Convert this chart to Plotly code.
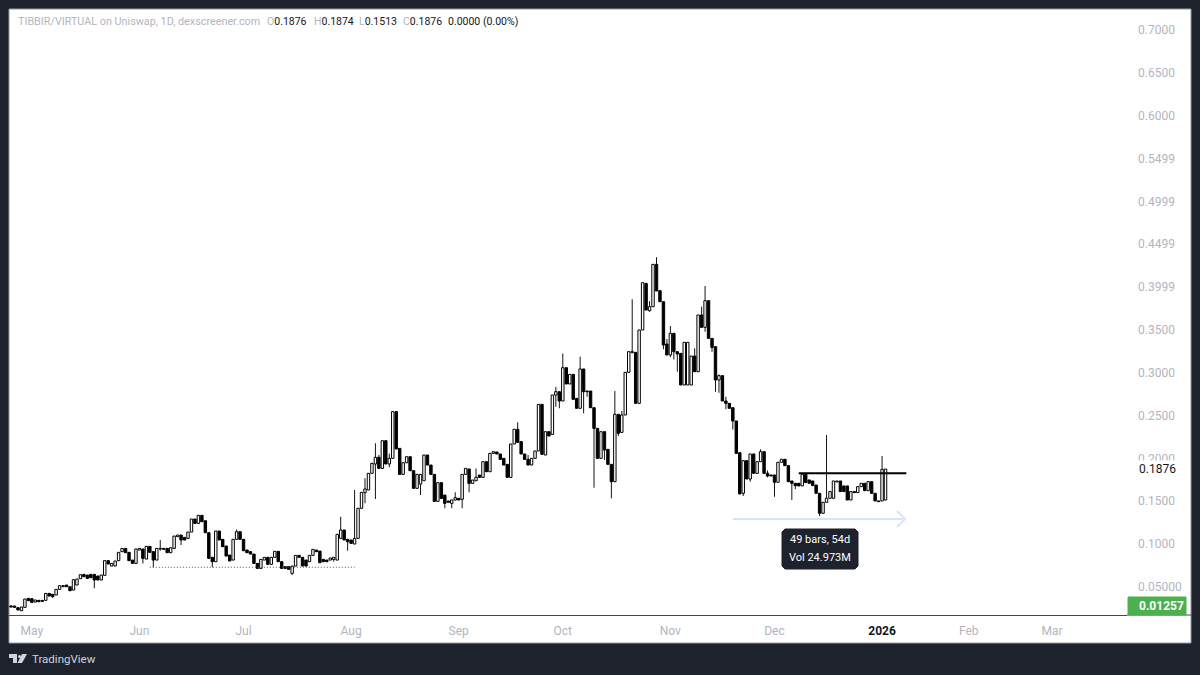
import pandas as pd
import plotly.graph_objects as go

# daily bars
opens = [
    .0278,.0278,.0258,.0223,.0262,.0367,.0363,.0324,.0344,.0344,
    .0344,.0425,.0414,.0406,.0472,.0515,.0523,.0503,.0464,.0523,
    .0597,.0647,.0639,.0647,.0647,.0628,.0581,.0636,.0807,.0744,
    .0744,.0807,.0912,.0950,.0904,.0814,.0775,.0931,.0943,.0826,
    .0974,.0912,.0814,.0950,.0950,.0950,.0900,.0950,.1087,.1106,
    .1079,.1067,.1141,.1293,.1242,.1336,.1273,.1133,.0846,.0795,
    .1153,.1056,.0978,.0873,.0814,.1056,.1145,.1056,.0931,.0912,
    .0884,.0775,.0717,.0814,.0846,.0764,.0846,.0916,.0795,.0737,
    .0737,.0659,.0744,.0869,.0846,.0814,.0795,.0869,.0931,.0919,
    .0822,.0814,.0814,.0822,.0814,.1067,.1165,.1056,.1048,.1001,
    .1067,.1418,.1600,.1632,.1826,.1935,.2013,.1884,.2207,.1935,
    .2001,.2546,.2118,.1814,.1950,.2020,.1857,.1651,.1700,.1740,
    .2040,.1923,.1814,.1499,.1717,.1573,.1503,.1476,.1515,.1534,
    .1523,.1814,.1877,.1709,.1740,.1806,.1779,.1962,.1845,.2059,
    .2075,.2052,.2001,.1931,.1779,.2168,.2340,.2196,.2052,.1989,
    .1923,.2001,.2087,.2631,.2040,.2312,.2281,.2740,.2779,.2670,
    .3059,.2869,.2981,.2701,.2585,.3044,.2787,.2787,.2592,.2351,
    .2001,.2312,.2106,.1931,.1729,.2515,.2304,.2507,.3005,.3234,
    .3238,.2643,.3499,.4043,.3724,.3771,.4265,.3958,.3829,.3335,
    .3207,.3460,.3246,.3226,.2857,.2857,.2857,.3195,.3012,.3674,
    .3530,.3841,.3401,.3304,.2915,.2966,.2670,.2643,.2592,.2437,
    .2067,.1593,.1974,.1760,.2052,.1826,.1962,.2079,.1827,.1807,
    .1807,.1722,.1955,.1990,.1916,.1737,.1710,.1710,.1679,.1815,
    .1749,.1737,.1690,.1593,.1360,.1488,.1535,.1535,.1725,.1737,
    .1679,.1679,.1515,.1613,.1601,.1671,.1710,.1624,.1729,.1593,
    .1504,.1504,.1515,
]
closes = [
    .0266,.0262,.0231,.0266,.0359,.0340,.0320,.0348,.0328,.0332,
    .0425,.0394,.0387,.0472,.0515,.0503,.0503,.0456,.0585,.0593,
    .0643,.0620,.0600,.0608,.0581,.0581,.0639,.0807,.0768,.0775,
    .0803,.0904,.0950,.0900,.0807,.0775,.0943,.0950,.0834,.0974,
    .0904,.0814,.0950,.0943,.0939,.0900,.0958,.1094,.1106,.1048,
    .1048,.1141,.1293,.1242,.1336,.1262,.1133,.0834,.0795,.1153,
    .1048,.0970,.0861,.0803,.1056,.1145,.1056,.0923,.0900,.0884,
    .0775,.0717,.0822,.0846,.0764,.0846,.0916,.0795,.0717,.0717,
    .0706,.0744,.0869,.0846,.0744,.0744,.0869,.0939,.0912,.0783,
    .0795,.0795,.0838,.0846,.1114,.1165,.1048,.1028,.1009,.1067,
    .1418,.1604,.1643,.1826,.1943,.2013,.1884,.2207,.1935,.2001,
    .2546,.2110,.1814,.1950,.2020,.1857,.1651,.1814,.1814,.2040,
    .1923,.1814,.1499,.1717,.1534,.1476,.1488,.1515,.1542,.1515,
    .1814,.1884,.1709,.1748,.1779,.1779,.1962,.1845,.2059,.2079,
    .2052,.1989,.1923,.1779,.2168,.2340,.2188,.2052,.1989,.1923,
    .2001,.2087,.2631,.2048,.2312,.2262,.2740,.2779,.2670,.3059,
    .2869,.2981,.2690,.2585,.3044,.2779,.2779,.2592,.2351,.2001,
    .2312,.2098,.1931,.1729,.2515,.2293,.2507,.3005,.3246,.3246,
    .2643,.3499,.4051,.3732,.3771,.4265,.3954,.3829,.3324,.3207,
    .3460,.3246,.3219,.2857,.3355,.3355,.3195,.3012,.3674,.3530,
    .3841,.3401,.3296,.2915,.2966,.2670,.2643,.2585,.2437,.2059,
    .1585,.1974,.1760,.2052,.1826,.1962,.2079,.1826,.1795,.1795,
    .1722,.1955,.1990,.1916,.1729,.1710,.1683,.1679,.1815,.1718,
    .1710,.1683,.1593,.1360,.1488,.1535,.1613,.1737,.1737,.1613,
    .1613,.1515,.1613,.1601,.1671,.1710,.1624,.1729,.1593,.1504,
    .1496,.1873,.1876,
]
highs = [
    .0286,.0278,.0258,.0266,.0359,.0367,.0363,.0348,.0344,.0344,
    .0425,.0425,.0414,.0472,.0515,.0515,.0523,.0503,.0585,.0593,
    .0643,.0647,.0639,.0647,.0647,.0628,.0639,.0807,.0807,.0775,
    .0803,.0904,.0950,.0950,.0904,.0814,.0943,.0950,.0943,.0974,
    .0974,.0912,.0950,.1048,.0950,.0950,.0958,.1094,.1106,.1106,
    .1079,.1141,.1293,.1293,.1336,.1336,.1273,.1133,.0846,.1153,
    .1153,.1056,.0978,.0873,.1056,.1172,.1145,.1056,.0931,.0912,
    .0884,.0775,.0822,.0846,.0846,.0846,.0916,.0916,.0795,.0737,
    .0737,.0744,.0869,.0869,.0846,.0814,.0869,.0939,.0931,.0919,
    .0822,.0814,.0838,.0846,.1114,.1320,.1165,.1056,.1048,.1631,
    .1418,.1604,.1768,.1826,.1943,.2176,.2040,.2207,.2207,.2059,
    .2546,.2546,.2118,.1950,.2020,.2020,.1857,.1814,.1814,.2040,
    .2040,.1923,.1814,.1717,.1717,.1573,.1503,.1515,.1604,.1534,
    .1814,.1884,.1877,.1748,.1884,.1806,.1962,.1962,.2059,.2079,
    .2075,.2052,.2001,.1931,.2168,.2340,.2421,.2196,.2052,.2040,
    .2001,.2087,.2631,.2631,.2312,.2312,.2740,.2837,.2779,.3226,
    .3059,.2981,.2981,.2701,.3187,.3044,.2787,.2787,.2592,.2351,
    .2312,.2312,.2106,.1931,.2787,.2515,.2553,.3005,.3246,.3857,
    .3238,.3499,.4051,.4043,.3837,.4265,.4347,.3958,.3829,.3394,
    .3545,.3460,.3246,.3226,.3355,.3355,.3195,.3285,.3674,.3771,
    .4012,.3841,.3401,.3304,.2981,.2966,.2721,.2643,.2592,.2437,
    .2067,.1974,.1974,.2052,.2052,.1962,.2106,.2079,.1858,.1807,
    .1807,.1955,.1990,.1990,.1916,.1737,.1710,.1710,.1815,.1815,
    .1749,.1737,.1690,.1593,.1488,.2274,.1613,.1737,.1737,.1737,
    .1679,.1679,.1613,.1613,.1671,.1710,.1710,.1729,.1729,.1593,
    .1504,.2029,.1877,
]
lows = [
    .0262,.0262,.0231,.0223,.0262,.0340,.0320,.0324,.0328,.0332,
    .0344,.0394,.0370,.0406,.0472,.0503,.0503,.0456,.0464,.0523,
    .0597,.0620,.0600,.0608,.0484,.0581,.0581,.0636,.0768,.0744,
    .0744,.0807,.0912,.0900,.0807,.0775,.0775,.0931,.0775,.0826,
    .0904,.0729,.0814,.0923,.0939,.0900,.0900,.0950,.1087,.0989,
    .1048,.1067,.1141,.1242,.1242,.1262,.1133,.0834,.0729,.0795,
    .1048,.0970,.0861,.0803,.0814,.1056,.1056,.0923,.0900,.0884,
    .0775,.0717,.0717,.0814,.0764,.0764,.0846,.0795,.0717,.0717,
    .0706,.0639,.0744,.0846,.0744,.0744,.0795,.0869,.0912,.0783,
    .0795,.0795,.0814,.0795,.0814,.1067,.1048,.0923,.1009,.1001,
    .1067,.1418,.1476,.1632,.1826,.1526,.1884,.1884,.1935,.1896,
    .2001,.2110,.1814,.1814,.1950,.1857,.1651,.1651,.1573,.1740,
    .1923,.1814,.1499,.1499,.1534,.1418,.1488,.1418,.1515,.1515,
    .1418,.1814,.1604,.1709,.1740,.1779,.1779,.1845,.1845,.2059,
    .2052,.1989,.1923,.1779,.1779,.2168,.2188,.2052,.1989,.1923,
    .1923,.2001,.2087,.2048,.2040,.2262,.2281,.2604,.2585,.2670,
    .2869,.2869,.2690,.2585,.2585,.2526,.2721,.2592,.1659,.2001,
    .2001,.1982,.1931,.1534,.1729,.2262,.2304,.2507,.3005,.3234,
    .2643,.2643,.3499,.3732,.3713,.3771,.3954,.3829,.3273,.3207,
    .3180,.3156,.3012,.2857,.2857,.2857,.2857,.3012,.3012,.3530,
    .3479,.3401,.3246,.2779,.2767,.2670,.2573,.2585,.2339,.2059,
    .1585,.1561,.1760,.1729,.1826,.1826,.1962,.1826,.1780,.1795,
    .1554,.1722,.1955,.1916,.1729,.1515,.1640,.1679,.1679,.1718,
    .1710,.1683,.1593,.1329,.1360,.1488,.1535,.1535,.1725,.1613,
    .1613,.1515,.1515,.1601,.1601,.1671,.1624,.1624,.1593,.1504,
    .1496,.1504,.1513,
]

# axis ticks
price_ticks = [0.70, 0.65, 0.60, 0.55, 0.50, 0.45, 0.40, 0.35, 0.30, 0.25, 0.20, 0.15, 0.10, 0.05]
price_labels = ["0.7000", "0.6500", "0.6000", "0.5499", "0.4999", "0.4499", "0.3999", "0.3500",
                "0.3000", "0.2500", "0.2000", "0.1500", "0.1000", "0.05000"]
date_ticks = ["2025-05-01", "2025-06-01", "2025-07-01", "2025-08-01", "2025-09-01", "2025-10-01",
              "2025-11-01", "2025-12-01", "2026-01-01", "2026-01-26", "2026-02-19"]
date_labels = ["May", "Jun", "Jul", "Aug", "Sep", "Oct", "Nov", "Dec",
               "<b style='color:#131722'>2026</b>", "Feb", "Mar"]

# drawings on the chart
support_x = ["2025-06-04", "2025-08-02"]
support_y = [0.0730, 0.0730]
resistance_x = ["2025-12-08", "2026-01-08"]
resistance_y = [0.1827, 0.1827]
range_x = ["2025-11-19", "2026-01-07"]
range_y = [0.1293, 0.1293]

DARK = "#1e222d"
GREY = "#b2b5be"
FONT = "Roboto"
DAY_MS = 86400000


# pixel position on the 1200x675 page -> paper coords of the plot area
def px(x):
    return (x - 9) / 1118


def py(y):
    return (615 - y) / 606


def paper_path(points):
    return "M" + " L".join(f"{px(x)},{py(y)}" for x, y in points) + " Z"


def text(x, y, s, color=GREY, size=11, anchor="left", bg=None):
    fig.add_annotation(xref="paper", yref="paper", x=px(x), y=py(y), text=s, showarrow=False,
                       xanchor=anchor, yanchor="middle", bgcolor=bg,
                       font=dict(family=FONT, size=size, color=color))


dates = pd.date_range("2025-04-25", periods=len(opens))
df = pd.DataFrame({"date": dates, "open": opens, "high": highs, "low": lows, "close": closes})
df["body"] = (df["close"] - df["open"]).abs()
df["base"] = df[["open", "close"]].min(axis=1)
up = df[df["close"] >= df["open"]]
down = df[df["close"] < df["open"]]

fig = go.Figure()

# wicks are thin bars too: plotly always puts scatter on top of bars, which would blacken hollow bodies
# (alpha just under 1 stops plotly widening them to 2px)
fig.add_trace(go.Bar(x=df["date"], y=df["high"] - df["low"], base=df["low"], width=0.28 * DAY_MS, showlegend=False,
                     marker=dict(color="rgba(0,0,0,0.95)", line=dict(width=0))))
fig.add_trace(go.Bar(x=up["date"], y=up["body"], base=up["base"], width=0.7 * DAY_MS, showlegend=False,
                     marker=dict(color="#ffffff", line=dict(color="#000000", width=1))))
fig.add_trace(go.Bar(x=down["date"], y=down["body"], base=down["base"], width=0.7 * DAY_MS, showlegend=False,
                     marker=dict(color="#000000", line=dict(color="#000000", width=1))))
fig.add_trace(go.Scatter(x=support_x, y=support_y, mode="lines", showlegend=False,
                         line=dict(color="#555555", width=1, dash="1px,2px")))
fig.add_trace(go.Scatter(x=resistance_x, y=resistance_y, mode="lines", showlegend=False,
                         line=dict(color="#000000", width=2)))
fig.add_trace(go.Scatter(x=range_x, y=range_y, mode="lines", showlegend=False,
                         line=dict(color="#d6e4fb", width=2)))

fig.update_layout(
    width=1200,
    height=675,
    margin=dict(l=9, r=73, t=9, b=60, autoexpand=False),
    paper_bgcolor=DARK,
    plot_bgcolor="#ffffff",
    font=dict(family=FONT, size=12, color=GREY),
    hovermode=False,
    barmode="overlay",
    xaxis=dict(
        range=["2025-04-24 10:00", "2026-03-12 14:00"],
        showgrid=False, zeroline=False,
        tickmode="array", tickvals=date_ticks, ticktext=date_labels,
        ticks="", tickangle=0, ticklabelstandoff=5, tickfont=dict(family=FONT, size=12, color=GREY),
        showline=True, linecolor="#434651", linewidth=1,
    ),
    yaxis=dict(
        range=[0.01729, 0.7245],
        side="right",
        showgrid=False, zeroline=False, showline=False,
        tickmode="array", tickvals=price_ticks, ticktext=price_labels,
        ticks="", ticklabelstandoff=10, tickfont=dict(family=FONT, size=12, color=GREY),
    ),
)

# white panel behind plot + axes, with the thin frame
fig.add_shape(type="rect", xref="paper", yref="paper", layer="below",
              x0=px(9), x1=px(1191), y0=py(643), y1=py(9),
              fillcolor="#ffffff", line=dict(color="#9598a1", width=1))
fig.add_shape(type="line", xref="paper", yref="paper", x0=px(1127), x1=px(1191), y0=py(615), y1=py(615),
              line=dict(color="#434651", width=1))

# arrow head of the range tool
fig.add_shape(type="path", xref="paper", yref="paper", line=dict(color="#d6e4fb", width=2),
              path=f"M{px(897)},{py(511)} L{px(905)},{py(519)} L{px(897)},{py(527)}")

# range tooltip
fig.add_shape(type="path", xref="paper", yref="paper", fillcolor="#1e222d", line=dict(color="#1e222d", width=1),
              path=paper_path([(785, 529), (855, 529), (858, 532), (858, 566), (855, 569),
                               (785, 569), (782, 566), (782, 532)]))
text(820, 539, "49 bars, 54d", color="#ffffff", size=11, anchor="center")
text(820, 557, "Vol 24.973M", color="#ffffff", size=11, anchor="center")

# legend line
text(16, 22, "TIBBIR/VIRTUAL on Uniswap, 1D, dexscreener.com", color=GREY, size=10.8)
for x, letter, value in [(265, "O", "0.1876"), (312, "H", "0.1874"), (357, "L", "0.1513"), (401, "C", "0.1876")]:
    text(x, 22, f"<span style='color:{GREY}'>{letter}</span>{value}", color="#131722", size=10.5)
text(446, 22, "0.0000 (0.00%)", color="#131722", size=10.5)

# last price / scale labels, the white box cuts off the tick behind it like the original
text(1137, 469, "0.1876", color="#131722", size=12, bg="#ffffff")
fig.add_shape(type="rect", xref="paper", yref="paper", x0=px(1128), x1=px(1186), y0=py(615), y1=py(597),
              fillcolor="#4caf50", line=dict(color="#4caf50", width=1))
text(1137, 606, "<b>0.01257</b>", color="#ffffff", size=12)

# branding
fig.add_shape(type="path", xref="paper", yref="paper", fillcolor="#d1d4dc", line=dict(width=0),
              path=paper_path([(9, 654), (17, 654), (17, 663), (13, 663), (13, 658), (9, 658)]))
fig.add_shape(type="path", xref="paper", yref="paper", fillcolor="#d1d4dc", line=dict(width=0),
              path=paper_path([(22, 654), (27, 654), (22, 663), (17.5, 663)]))
fig.add_shape(type="circle", xref="paper", yref="paper", fillcolor="#d1d4dc", line=dict(width=0),
              x0=px(18), x1=px(21), y0=py(658), y1=py(655))
text(30, 659, "TradingView", color="#d1d4dc", size=11.5)

fig.write_html("out.html", config=dict(displayModeBar=False),
               post_script="document.body.style.margin='0';document.body.style.background='#1e222d';")
